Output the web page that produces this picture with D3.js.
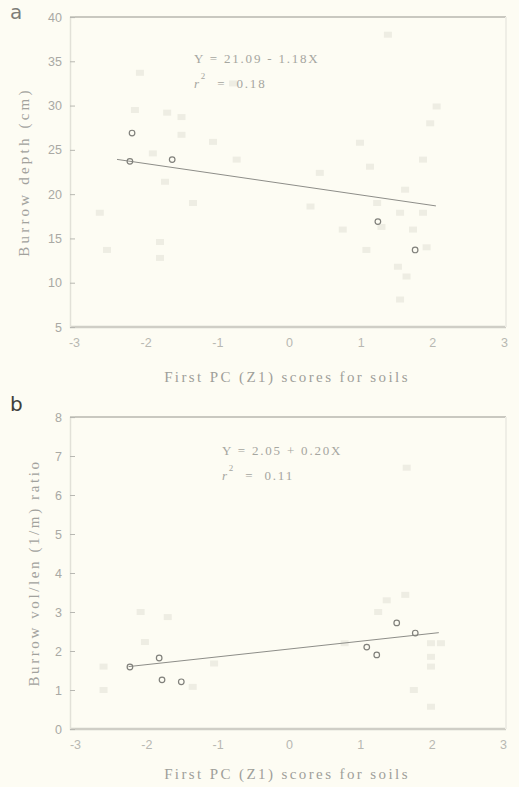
<!DOCTYPE html>
<html><head><meta charset="utf-8">
<script src="https://cdn.jsdelivr.net/npm/d3@7"></script>
<style>
html,body{margin:0;padding:0;background:#fdfcf3;}
svg{display:block;}
</style></head>
<body>
<script>
// ---------- data ----------
const xTicks = [-3, -2, -1, 0, 1, 2, 3];
const yTicksA = [5, 10, 15, 20, 25, 30, 35, 40];
const yTicksB = [0, 1, 2, 3, 4, 5, 6, 7, 8];

// Panel a: burrow depth (cm) vs first PC score
const clearXA = [-2.19, -2.22, -1.63, 1.24, 1.76];
const clearYA = [26.9, 23.7, 23.9, 16.9, 13.7];
const fadedXA = [-2.54, -1.80, -1.80, -1.50, -1.50, -1.70, -2.15, -2.08, -1.90, -1.73, -1.34, -1.06, -0.78, -0.73, -2.64,
                 0.30, 0.43, 0.75, 0.99, 1.08, 1.13, 1.23, 1.29, 1.38, 1.52, 1.55, 1.62, 1.64, 1.73, 1.87, 1.92, 1.87, 1.97, 2.06, 1.55];
const fadedYA = [13.7, 14.6, 12.8, 28.7, 26.7, 29.2, 29.5, 33.7, 24.6, 21.4, 19.0, 25.9, 32.5, 23.9, 17.9,
                 18.6, 22.4, 16.0, 25.8, 13.7, 23.1, 19.0, 16.3, 38.0, 11.8, 17.9, 20.5, 10.7, 16.0, 17.9, 14.0, 23.9, 28.0, 29.9, 8.1];
const fitA = {intercept: 21.09, slope: -1.18, x0: -2.4, x1: 2.05};
const eqA = ["Y = 21.09 - 1.18X", "0.18"];

// Panel b: burrow vol/len (1/m) ratio vs first PC score
const clearXB = [-2.23, -1.82, -1.78, -1.51, 1.09, 1.23, 1.51, 1.77];
const clearYB = [1.59, 1.82, 1.26, 1.21, 2.10, 1.90, 2.72, 2.46];
const fadedXB = [1.63, 1.37, 1.25, 0.78, 1.99, 1.99, 1.99, 1.99, 1.75, 2.13, 1.65, -2.08, -1.70, -2.02, -2.60, -2.60, -1.35, -1.05];
const fadedYB = [3.44, 3.30, 3.00, 2.20, 2.20, 1.85, 1.60, 0.57, 1.00, 2.20, 6.70, 3.00, 2.87, 2.23, 1.60, 1.00, 1.08, 1.68];
const fitB = {intercept: 2.05, slope: 0.20, x0: -2.25, x1: 2.1};
const eqB = ["Y = 2.05 + 0.20X", "0.11"];

const xTitle = "First PC (Z1) scores for soils";
const yTitleA = "Burrow depth (cm)";
const yTitleB = "Burrow vol/len (1/m) ratio";

// ---------- drawing ----------
const W = 519, H = 787;
const svg = d3.select("body").append("svg").attr("width", W).attr("height", H);
svg.append("rect").attr("width", W).attr("height", H).attr("fill", "#fdfcf3");

const TXT = "#a9a9a4";
const sans = "'Liberation Sans', Arial, sans-serif";
const serif = "'Liberation Serif', 'Times New Roman', serif";

function panel(o) {
  const g = svg.append("g");
  const x = d3.scaleLinear().domain([-3, 3]).range([o.x0, o.x1]);
  const y = d3.scaleLinear().domain(o.yDomain).range([o.yBot, o.yTop]);

  // frame: top & bottom heavy lines, faint right edge
  g.append("line").attr("x1", o.left).attr("x2", o.right).attr("y1", o.yTop).attr("y2", o.yTop)
    .attr("stroke", "#c9c8c0").attr("stroke-width", 2);
  g.append("line").attr("x1", o.left).attr("x2", o.right).attr("y1", o.yBot).attr("y2", o.yBot)
    .attr("stroke", "#cfcec6").attr("stroke-width", 2.5);
  g.append("line").attr("x1", o.right).attr("x2", o.right).attr("y1", o.yTop).attr("y2", o.yBot)
    .attr("stroke", "#efeee6").attr("stroke-width", 2);

  // y axis (inward ticks)
  const ya = g.append("g").attr("transform", `translate(${o.left},0)`)
    .call(d3.axisRight(y).tickValues(o.yTicks).tickSize(5).tickFormat(""));
  ya.select(".domain").attr("stroke", "#e2e1d8").attr("stroke-width", 1.5);
  ya.selectAll(".tick line").attr("stroke", "#b8b8b2");
  g.append("g").selectAll("text").data(o.yTicks).join("text")
    .attr("x", o.left - 8).attr("y", d => y(d) + 4.5)
    .attr("text-anchor", "end").attr("font-family", sans).attr("font-size", 12.5)
    .attr("fill", TXT).text(d => d);

  // x axis labels
  const xa = g.append("g").attr("transform", `translate(0,${o.yBot})`)
    .call(d3.axisBottom(x).tickValues(xTicks).tickSize(0).tickPadding(11).tickFormat(d => String(d)));
  xa.select(".domain").remove();
  xa.selectAll("text").attr("font-family", sans).attr("font-size", 12.5).attr("fill", "#b8b8b2");

  // faded points
  g.append("g").selectAll("rect").data(o.fx.map((v, i) => [v, o.fy[i]])).join("rect")
    .attr("x", d => x(d[0]) - 4).attr("y", d => y(d[1]) - 3).attr("width", 8).attr("height", 6)
    .attr("fill", "#eeede3");

  // regression line
  const line = d3.line().x(d => x(d)).y(d => y(o.fit.intercept + o.fit.slope * d));
  g.append("path").datum([o.fit.x0, o.fit.x1]).attr("d", line)
    .attr("fill", "none").attr("stroke", "#8d8d88").attr("stroke-width", 1);

  // legible points
  g.append("g").selectAll("circle").data(o.cx.map((v, i) => [v, o.cy[i]])).join("circle")
    .attr("cx", d => x(d[0])).attr("cy", d => y(d[1])).attr("r", 2.8)
    .attr("fill", "none").attr("stroke", "#80807b").attr("stroke-width", 1.2);

  // equation
  g.append("text").attr("x", o.eqX).attr("y", o.eqY).attr("font-family", serif).attr("font-size", 13)
    .attr("letter-spacing", 1.8).attr("fill", "#a6a6a0").attr("xml:space", "preserve").text(o.eq[0]);
  const r = g.append("text").attr("x", o.eqX).attr("y", o.eqY + 25).attr("font-family", serif)
    .attr("font-size", 13).attr("letter-spacing", 1.8).attr("fill", "#a6a6a0").attr("xml:space", "preserve");
  r.append("tspan").attr("font-style", "italic").text("r");
  r.append("tspan").attr("dy", -9).attr("font-size", 9).text("2");
  r.append("tspan").attr("dy", 9).text("  =  " + o.eq[1]);

  // axis titles
  g.append("text").attr("x", 287).attr("y", o.xTitleY).attr("text-anchor", "middle")
    .attr("font-family", serif).attr("font-size", 15).attr("letter-spacing", 2.4)
    .attr("fill", "#9f9f9a").text(xTitle);
  g.append("text").attr("transform", `translate(${o.yTitleX},${o.yTitleMid}) rotate(-90)`)
    .attr("text-anchor", "middle").attr("font-family", serif).attr("font-size", 15)
    .attr("letter-spacing", o.yTitleLS).attr("fill", "#a2a29d").text(o.yTitle);

  // panel letter
  svg.append("text").attr("x", 10).attr("y", o.letterY).attr("font-family", "'DejaVu Sans', sans-serif")
    .attr("font-size", 20).attr("fill", o.letterColor).text(o.letter);
}

panel({
  x0: 74, x1: 504, left: 70, right: 506, yTop: 17, yBot: 327,
  yDomain: [5, 40], yTicks: yTicksA,
  cx: clearXA, cy: clearYA, fx: fadedXA, fy: fadedYA, fit: fitA, eq: eqA,
  eqX: 194, eqY: 63, xTitleY: 382, yTitleX: 29, yTitleMid: 172, yTitleLS: 3.2,
  yTitle: yTitleA, letter: "a", letterY: 19, letterColor: "#7d7d78"
});
panel({
  x0: 75, x1: 503, left: 70, right: 506, yTop: 417, yBot: 729,
  yDomain: [0, 8], yTicks: yTicksB,
  cx: clearXB, cy: clearYB, fx: fadedXB, fy: fadedYB, fit: fitB, eq: eqB,
  eqX: 222, eqY: 455, xTitleY: 779, yTitleX: 39, yTitleMid: 573, yTitleLS: 2.6,
  yTitle: yTitleB, letter: "b", letterY: 411, letterColor: "#3f3f3c"
});
</script>
</body></html>
